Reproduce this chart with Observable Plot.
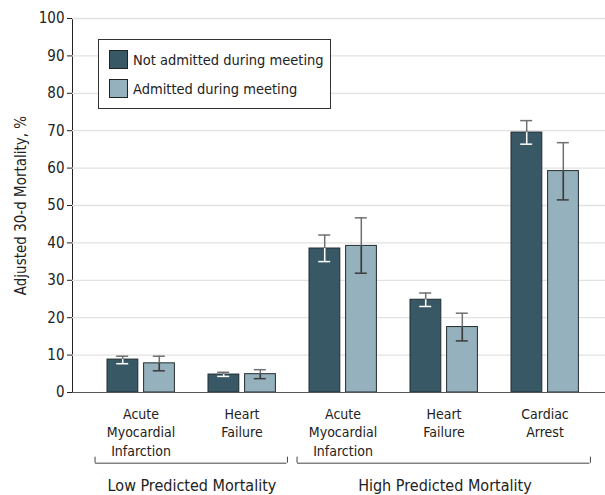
<!DOCTYPE html>
<html>
<head>
<meta charset="utf-8">
<script src="https://cdn.jsdelivr.net/npm/d3@7"></script>
<script src="https://cdn.jsdelivr.net/npm/@observablehq/plot@0.6"></script>
<style>
  body { margin: 0; background: #fff; }
  #wrap { position: relative; width: 605px; height: 495px; font-family: "DejaVu Sans Condensed", "Liberation Sans Narrow", "DejaVu Sans", sans-serif; color: #222; }
  .legend { position: absolute; left: 98px; top: 39px; width: 231px; height: 68px; border: 1px solid #333; background: #fff; font-size: 14.5px; }
  .legend .item { position: absolute; left: 10px; display: flex; align-items: center; white-space: nowrap; }
  .legend .sw { width: 17px; height: 17px; border: 1px solid #222; margin-right: 5px; }
</style>
</head>
<body>
<div id="wrap"></div>
<script>
// ---- data ----
const groupIds = ["low-ami", "low-hf", "high-ami", "high-hf", "high-ca"];
const groupTickLabels = ["Acute\nMyocardial\nInfarction", "Heart\nFailure", "Acute\nMyocardial\nInfarction", "Heart\nFailure", "Cardiac\nArrest"];
const seriesNames = ["Not admitted during meeting", "Admitted during meeting"];
const seriesColors = ["#395866", "#95b1bd"];
const notAdmittedMean = [8.8, 4.8, 38.5, 24.8, 69.5];
const notAdmittedLow  = [7.7, 4.3, 35.0, 23.0, 66.4];
const notAdmittedHigh = [9.7, 5.4, 42.1, 26.6, 72.7];
const admittedMean = [7.8, 4.9, 39.2, 17.5, 59.2];
const admittedLow  = [5.8, 3.7, 31.9, 13.8, 51.5];
const admittedHigh = [9.7, 6.1, 46.7, 21.2, 66.8];
const riskNames = ["Low Predicted Mortality", "High Predicted Mortality"];
const riskFirstGroup = ["low-ami", "high-ami"];
const riskLastGroup = ["low-hf", "high-ca"];
const yTicks = [0, 10, 20, 30, 40, 50, 60, 70, 80, 90, 100];
const yLabel = "Adjusted 30-d Mortality, %";

// ---- tables ----
const rowsNot = groupIds.map((g, i) => ({group: g, mean: notAdmittedMean[i], lo: notAdmittedLow[i], hi: notAdmittedHigh[i]}));
const rowsAdm = groupIds.map((g, i) => ({group: g, mean: admittedMean[i], lo: admittedLow[i], hi: admittedHigh[i]}));
const labelOf = new Map(groupIds.map((g, i) => [g, groupTickLabels[i]]));
const riskRows = riskNames.map((name, i) => ({
  name, first: riskFirstGroup[i], last: riskLastGroup[i],
  span: groupIds.indexOf(riskLastGroup[i]) - groupIds.indexOf(riskFirstGroup[i])
}));

const X_RANGE = [88, 597.5];
const STEP = (X_RANGE[1] - X_RANGE[0]) / groupIds.length;
const BAR_DX = 18.3;
const CAP_INSET = 44.5;
const outerErr = "#707070";

function errorMarks(rows, dx, innerColor) {
  return [
    Plot.ruleX(rows, {x: "group", y1: "lo", y2: "hi", dx, stroke: outerErr, strokeWidth: 1.5}),
    Plot.tickY(rows, {x: "group", y: "hi", dx, insetLeft: CAP_INSET, insetRight: CAP_INSET, stroke: outerErr, strokeWidth: 1.5}),
    Plot.ruleX(rows, {x: "group", y1: "lo", y2: d => Math.min(d.mean, d.hi), dx, stroke: innerColor, strokeWidth: 1.5}),
    Plot.tickY(rows, {x: "group", y: "lo", dx, insetLeft: CAP_INSET, insetRight: CAP_INSET, stroke: innerColor, strokeWidth: 1.5})
  ];
}

const BRACKET_Y = -18.9, BRACKET_TOP = -17.3, RISK_LABEL_Y = -24.9;
const BR_INSET = 5;
function bracketMarks(r) {
  const d = [r];
  const half = STEP / 2 - BR_INSET;
  return [
    Plot.ruleY(d, {x1: "first", x2: "last", y: () => BRACKET_Y, insetLeft: BR_INSET, insetRight: BR_INSET + 0.5, stroke: "#444", strokeWidth: 1}),
    Plot.ruleX(d, {x: "first", y1: () => BRACKET_Y, y2: () => BRACKET_TOP, dx: -half, stroke: "#444"}),
    Plot.ruleX(d, {x: "last", y1: () => BRACKET_Y, y2: () => BRACKET_TOP, dx: half - 0.5, stroke: "#444"}),
    Plot.text(d, {x: "first", y: () => RISK_LABEL_Y, text: "name", dx: r.span * STEP / 2, fontSize: 16, textAnchor: "middle"})
  ];
}

const plot = Plot.plot({
  width: 605,
  height: 495,
  marginTop: 18,
  marginBottom: 103,
  marginLeft: 72,
  marginRight: 0,
  style: {fontFamily: "\"DejaVu Sans Condensed\", \"Liberation Sans Narrow\", \"DejaVu Sans\", sans-serif", fontSize: "15px", color: "#222", background: "#fff"},
  x: {domain: groupIds, range: X_RANGE, padding: 0, axis: null},
  y: {domain: [0, 100], ticks: yTicks, tickSize: 5, tickPadding: 3, label: yLabel, labelArrow: false, labelAnchor: "center", labelOffset: 57, line: true},
  marks: [
    Plot.ruleY(yTicks.filter(t => t > 0), {stroke: "#e2e2e2", strokeWidth: 1.3}),
    Plot.barY(rowsNot, {x: "group", y: "mean", fill: seriesColors[0], stroke: "#1f2b31", strokeWidth: 1, insetLeft: 17, insetRight: 53.2}),
    Plot.barY(rowsAdm, {x: "group", y: "mean", fill: seriesColors[1], stroke: "#222c30", strokeWidth: 1, insetLeft: 53.6, insetRight: 16.6}),
    ...errorMarks(rowsNot, -BAR_DX, "#ffffff"),
    ...errorMarks(rowsAdm, BAR_DX, "#3a3a3a"),
    Plot.ruleY([0], {stroke: "#555", strokeWidth: 1.2}),
    Plot.text(groupIds, {x: d => d, y: () => 0, dy: 13, text: d => labelOf.get(d), lineAnchor: "top", lineHeight: 1.32, fontSize: 14, textAnchor: "middle"}),
    ...riskRows.flatMap(bracketMarks)
  ]
});

const wrap = document.getElementById("wrap");
wrap.appendChild(plot);

const legend = document.createElement("div");
legend.className = "legend";
seriesNames.forEach((name, i) => {
  const item = document.createElement("div");
  item.className = "item";
  item.style.top = (i === 0 ? 10 : 39) + "px";
  const sw = document.createElement("div");
  sw.className = "sw";
  sw.style.background = seriesColors[i];
  const t = document.createElement("span");
  t.textContent = name;
  item.appendChild(sw);
  item.appendChild(t);
  legend.appendChild(item);
});
wrap.appendChild(legend);
</script>
</body>
</html>
